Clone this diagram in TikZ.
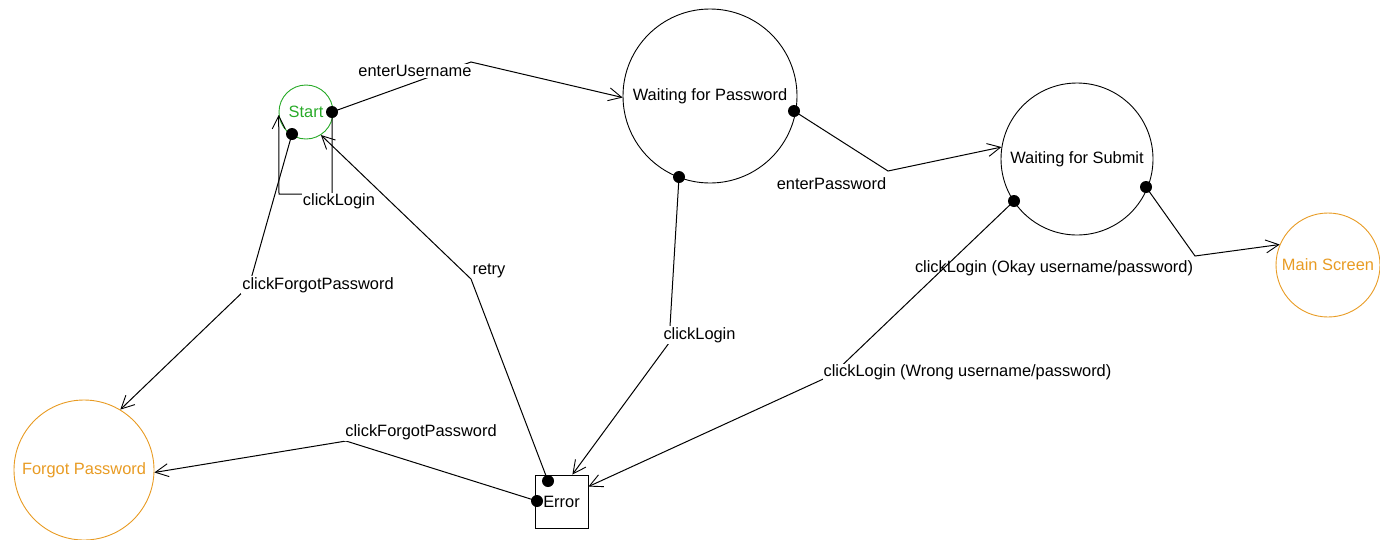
\documentclass[tikz,border=0pt]{standalone}
\usepackage{fontspec}
\setmainfont{Liberation Sans}
\usetikzlibrary{arrows.meta}
\definecolor{stgreen}{RGB}{40,170,40}
\definecolor{storange}{RGB}{232,155,35}
\begin{document}
\begin{tikzpicture}[x=1pt,y=-1pt,
  font=\fontsize{16.4}{19}\selectfont,
  state/.style={circle,draw,line width=0.9pt,inner sep=0pt},
  pin/.style={circle,fill=black,inner sep=0pt,minimum size=12pt},
  trans/.style={line width=1pt,-{Straight Barb[length=13pt,width=13pt,line width=0.9pt]}},
  lbl/.style={fill=white,inner sep=1pt}]
\useasboundingbox (0,0) rectangle (1380,539);

% states
\node[state,draw=stgreen,text=stgreen,minimum size=54pt] (start) at (306,112) {Start};
\node[state,minimum size=174pt] (wfp) at (710,96) {Waiting for Password};
\node[state,minimum size=152pt] (wfs) at (1077,159) {Waiting for Submit};
\node[state,draw=storange,text=storange,minimum size=104pt] (main) at (1328,265) {Main Screen};
\node[state,draw=storange,text=storange,minimum size=140pt] (forgot) at (84,470) {Forgot Password};
\node[draw,line width=0.9pt,minimum width=53pt,minimum height=53pt,inner sep=0pt] (error) at (561.5,501.5) {Error};

% bend points
\coordinate (bu) at (471,62);
\coordinate (bp) at (888,171);
\coordinate (bok) at (1195,256);
\coordinate (bwr) at (832,375);
\coordinate (bcl) at (669,343);
\coordinate (bre) at (471,279);
\coordinate (bfs) at (249,286);
\coordinate (bfe) at (346,441);
\coordinate (bl1) at (332,194);
\coordinate (bl2) at (279,194);

% connection points
\node[pin] (s1) at (332,112) {};
\node[pin] (s2) at (292,134) {};
\node[pin] (p1) at (794,111) {};
\node[pin] (p2) at (679,177) {};
\node[pin] (w1) at (1014,201) {};
\node[pin] (w2) at (1146,187) {};
\node[pin] (e1) at (548,481) {};
\node[pin] (e2) at (537,501) {};

% transitions with labels
\draw[trans] (s1.center) -- (bu) -- (wfp.181);
\node[lbl] (lu) at (415,71) {enterUsername};

\draw[trans] (s1.center) -- (bl1) -- (bl2) -- (start.186);
\node[lbl] (ll) at (339,201.5) {clickLogin};

\draw[trans] (s2.center) -- (bfs) -- (forgot.59.5);
\node[lbl] (lf) at (318,285) {clickForgotPassword};

\draw[trans] (e1.center) -- (bre) -- (start.-57);
\node[lbl] (lr) at (489,271) {retry};

\draw[trans] (p1.center) -- (bp) -- (wfs.171);
\node[lbl] (lp) at (831.5,183.5) {enterPassword};

\draw[trans] (p2.center) -- (bcl) -- (error.68);
\node[lbl] (lc) at (699.5,335) {clickLogin};

\draw[trans] (w2.center) -- (bok) -- (main.157);
\node[lbl] (lo) at (1054,268) {clickLogin (Okay username/password)};

\draw[trans] (w1.center) -- (bwr) -- (error.29);
\node[lbl] (lw) at (967.5,372.5) {clickLogin (Wrong username/password)};

\draw[trans] (e2.center) -- (bfe) -- (forgot.-2);
\node[lbl] (le) at (421,432) {clickForgotPassword};
\end{tikzpicture}
\end{document}
